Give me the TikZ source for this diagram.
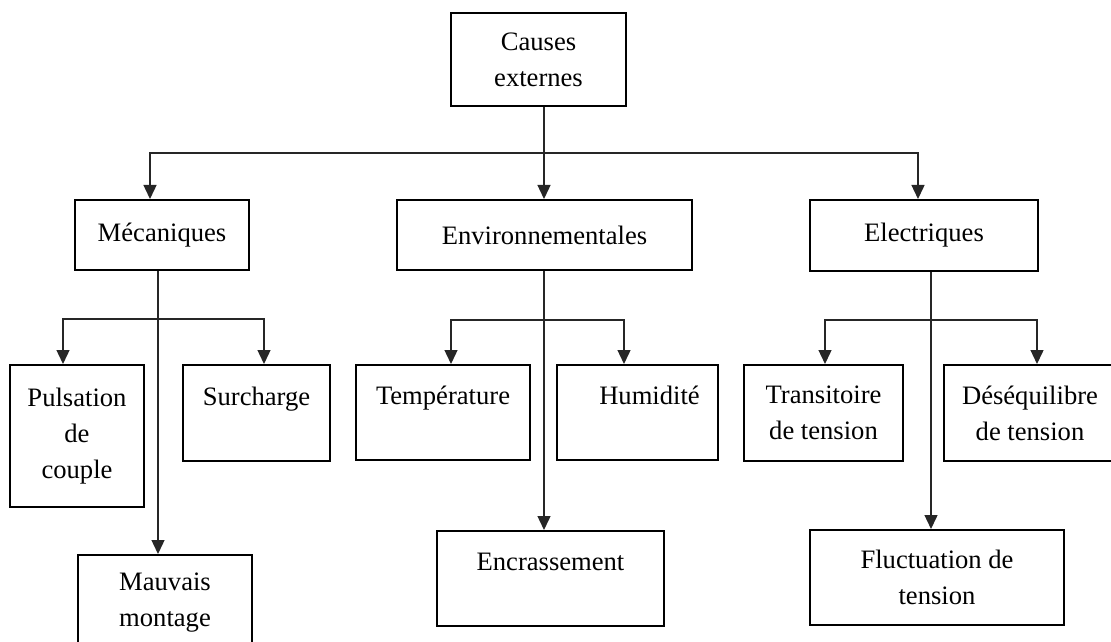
\documentclass[tikz,border=0pt]{standalone}
\usepackage{fontspec}
\setmainfont{Liberation Serif}
\usetikzlibrary{arrows.meta,calc}

\begin{document}
\begin{tikzpicture}[x=0.5pt,y=-0.5pt,
  box/.style={draw,line width=1pt,align=center,inner sep=2pt,
    font=\fontsize{13.3pt}{18pt}\selectfont},
  uptext/.style={text height=9pt,text depth=17pt},
  arr/.style={-{Triangle[width=6.5pt,length=7pt]},line width=0.7pt,black!85},
  link/.style={line width=0.7pt,black!85}]
\useasboundingbox (0,0) rectangle (1111,641);
\clip (0,0) rectangle (1111,641);
%% nodes
\node[box,minimum width=87.5pt,minimum height=46.5pt] (Cext) at (538.5,59.5) {Causes\\externes};
\node[box,minimum width=87pt,minimum height=35pt] (Meca) at (162,235) {Mécaniques};
\node[box,minimum width=147.5pt,minimum height=35pt] (Env) at (544.5,235) {Environnementales};
\node[box,minimum width=114pt,minimum height=35.5pt] (Elec) at (924,235.5) {Electriques};
%% under Mecaniques
\node[box,minimum width=67pt,minimum height=71pt] (Puls) at (77,436) {Pulsation\\de\\couple};
\node[box,uptext,minimum width=73.5pt,minimum height=48pt] (Surch) at (256.5,413) {Surcharge};
\node[box,minimum width=87pt,minimum height=47.5pt] (Mauv) at (165,602.5) {Mauvais\\montage};
%% under Environnementales
\node[box,uptext,minimum width=87pt,minimum height=47.5pt] (Temp) at (443,412.5) {Température};
\node[box,uptext,minimum width=80.5pt,minimum height=47.5pt] (Hum) at (637.5,412.5) {\hspace{12pt}Humidité};
\node[box,uptext,minimum width=113.5pt,minimum height=47.5pt] (Encr) at (550.5,578.5) {Encrassement};
%% under Electriques
\node[box,minimum width=79.5pt,minimum height=48pt] (Trans) at (823.5,413) {Transitoire\\de tension};
\node[box,minimum width=86pt,minimum height=48pt] (Deseq) at (1030,413) {Déséquilibre\\de tension};
\node[box,minimum width=127pt,minimum height=47.5pt] (Fluct) at (937,577.5) {Fluctuation de\\tension};
%% branch points
\coordinate (J0) at (544,153);
\coordinate (J1) at (158,319);
\coordinate (J2) at (544,320);
\coordinate (J3) at (931,320);
%%% edges
\draw[link] (Cext.south -| J0) -- (J0);
\draw[arr] (J0) -- (Env.north -| J0);
\draw[arr] (J0) -| ($(Meca.north)+(-12,0)$);
\draw[arr] (J0) -| ($(Elec.north)+(-6,0)$);

\draw[link] (Meca.south -| J1) -- (J1);
\draw[arr] (J1) -- (Mauv.north -| J1);
\draw[arr] (J1) -| ($(Puls.north)+(-14,0)$);
\draw[arr] (J1) -| ($(Surch.north)+(7.5,0)$);

\draw[link] (Env.south -| J2) -- (J2);
\draw[arr] (J2) -- (Encr.north -| J2);
\draw[arr] (J2) -| ($(Temp.north)+(8,0)$);
\draw[arr] (J2) -| ($(Hum.north)+(-13.5,0)$);

\draw[link] (Elec.south -| J3) -- (J3);
\draw[arr] (J3) -- (Fluct.north -| J3);
\draw[arr] (J3) -| ($(Trans.north)+(1.5,0)$);
\draw[arr] (J3) -| ($(Deseq.north)+(7,0)$);
\end{tikzpicture}
\end{document}
